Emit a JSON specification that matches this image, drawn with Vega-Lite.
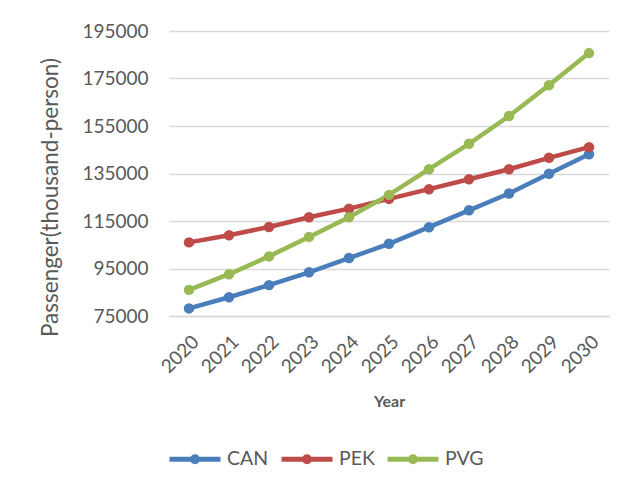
{
  "$schema": "https://vega.github.io/schema/vega-lite/v6.json",
  "width": 440,
  "height": 285,
  "autosize": {"type": "none"},
  "padding": {"left": 169, "top": 31, "right": 16, "bottom": 173},
  "background": "white",
  "data": {
    "values": [
      {"Year": "2020", "Airport": "CAN", "Passenger": 78200},
      {"Year": "2021", "Airport": "CAN", "Passenger": 82900},
      {"Year": "2022", "Airport": "CAN", "Passenger": 88000},
      {"Year": "2023", "Airport": "CAN", "Passenger": 93400},
      {"Year": "2024", "Airport": "CAN", "Passenger": 99400},
      {"Year": "2025", "Airport": "CAN", "Passenger": 105400},
      {"Year": "2026", "Airport": "CAN", "Passenger": 112400},
      {"Year": "2027", "Airport": "CAN", "Passenger": 119500},
      {"Year": "2028", "Airport": "CAN", "Passenger": 126600},
      {"Year": "2029", "Airport": "CAN", "Passenger": 134900},
      {"Year": "2030", "Airport": "CAN", "Passenger": 143100},
      {"Year": "2020", "Airport": "PEK", "Passenger": 106000},
      {"Year": "2021", "Airport": "PEK", "Passenger": 109000},
      {"Year": "2022", "Airport": "PEK", "Passenger": 112500},
      {"Year": "2023", "Airport": "PEK", "Passenger": 116600},
      {"Year": "2024", "Airport": "PEK", "Passenger": 120200},
      {"Year": "2025", "Airport": "PEK", "Passenger": 124300},
      {"Year": "2026", "Airport": "PEK", "Passenger": 128400},
      {"Year": "2027", "Airport": "PEK", "Passenger": 132600},
      {"Year": "2028", "Airport": "PEK", "Passenger": 136800},
      {"Year": "2029", "Airport": "PEK", "Passenger": 141600},
      {"Year": "2030", "Airport": "PEK", "Passenger": 146100},
      {"Year": "2020", "Airport": "PVG", "Passenger": 86000},
      {"Year": "2021", "Airport": "PVG", "Passenger": 92600},
      {"Year": "2022", "Airport": "PVG", "Passenger": 100100},
      {"Year": "2023", "Airport": "PVG", "Passenger": 108300},
      {"Year": "2024", "Airport": "PVG", "Passenger": 116600},
      {"Year": "2025", "Airport": "PVG", "Passenger": 126000},
      {"Year": "2026", "Airport": "PVG", "Passenger": 136800},
      {"Year": "2027", "Airport": "PVG", "Passenger": 147500},
      {"Year": "2028", "Airport": "PVG", "Passenger": 159200},
      {"Year": "2029", "Airport": "PVG", "Passenger": 172200},
      {"Year": "2030", "Airport": "PVG", "Passenger": 185700}
    ]
  },
  "mark": {"type": "line", "strokeWidth": 4.5, "point": {"filled": true, "size": 110, "opacity": 1}},
  "encoding": {
    "x": {
      "field": "Year", "type": "ordinal",
      "scale": {"type": "point", "padding": 0.5},
      "axis": {
        "title": "Year", "titleFont": "Lato", "titleFontSize": 16, "titleFontWeight": "bold", "titleColor": "#595959",
        "titlePadding": 17,
        "labelAngle": -45, "labelFont": "Lato", "labelFontSize": 19, "labelColor": "#595959", "labelPadding": 16,
        "ticks": false, "grid": false, "domain": true, "domainColor": "#d9d9d9", "domainWidth": 1.3
      }
    },
    "y": {
      "field": "Passenger", "type": "quantitative",
      "scale": {"domain": [75000, 195000], "nice": false, "zero": false},
      "axis": {
        "title": "Passenger(thousand-person)", "titleFont": "Lato", "titleFontSize": 22.5, "titleFontWeight": "normal", "titleColor": "#595959",
        "titlePadding": 19, "titleY": 166,
        "values": [75000, 95000, 115000, 135000, 155000, 175000, 195000],
        "format": "d",
        "labelFont": "Lato", "labelFontSize": 19, "labelColor": "#595959", "labelPadding": 21,
        "ticks": false, "domain": false, "grid": true, "gridColor": "#d9d9d9", "gridWidth": 1.3
      }
    },
    "color": {
      "field": "Airport", "type": "nominal",
      "scale": {"domain": ["CAN", "PEK", "PVG"], "range": ["#4A7EBB", "#BE4B48", "#98B954"]},
      "legend": {
        "title": null, "orient": "none", "direction": "horizontal",
        "legendX": -2, "legendY": 400,
        "symbolType": "M-1,0H1M-0.1,0A0.1,0.1 0 1,0 0.1,0A0.1,0.1 0 1,0 -0.1,0Z",
        "symbolSize": 2601, "symbolStrokeWidth": 5,
        "labelFont": "Lato", "labelFontSize": 19.5, "labelColor": "#595959", "labelOffset": 4,
        "columnPadding": 2
      }
    }
  },
  "config": {"view": {"stroke": null}}
}
